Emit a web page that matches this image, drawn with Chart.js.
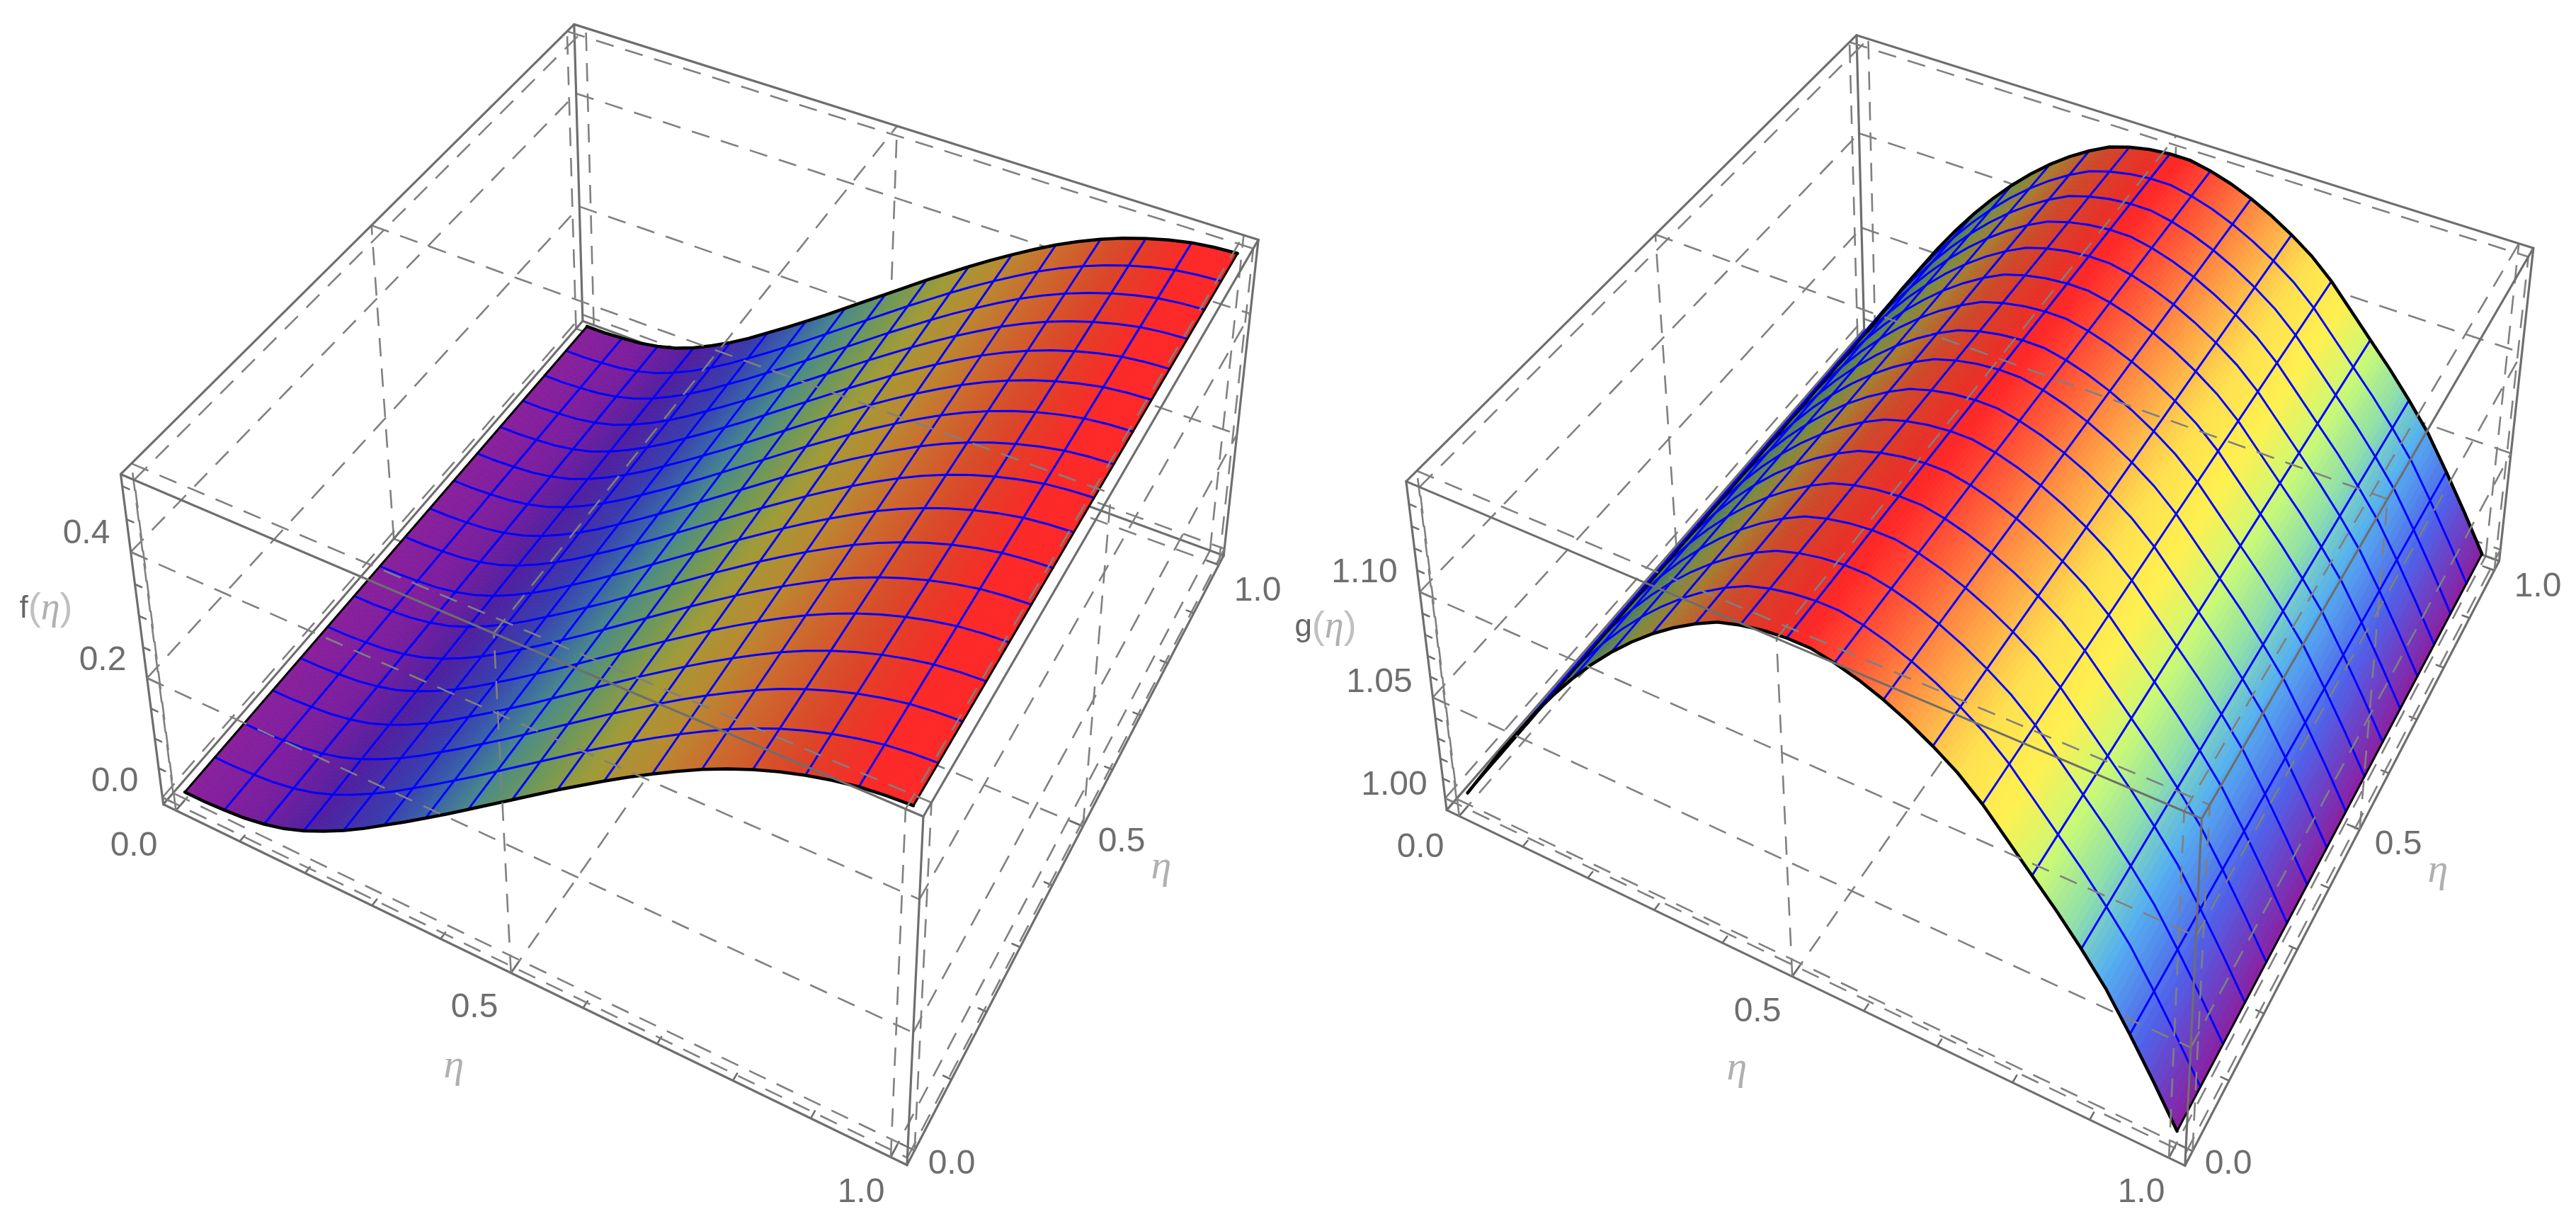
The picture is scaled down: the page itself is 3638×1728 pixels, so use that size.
<!DOCTYPE html>
<html><head><meta charset="utf-8">
<style>html,body{margin:0;padding:0;background:#fff}canvas{position:absolute;top:0}</style>
<script src="https://cdn.jsdelivr.net/npm/chart.js@4"></script>
</head><body>
<canvas id="left" width="1819" height="1728" style="left:0"></canvas>
<canvas id="right" width="1819" height="1728" style="left:1819px"></canvas>
<script>
// ---- data ----
const etaSamples = Array.from({length:33},(_,k)=>k/32);
const fValues = [0,0,.002,.005,.011,.02,.033,.049,.067,.087,.109,.131,.154,.177,.201,.225,.249,.273,.297,.32,.343,.365,.386,.406,.425,.442,.457,.47,.481,.49,.497,.501,.503];
const gValues = [1,1.015,1.03,1.044,1.058,1.071,1.083,1.094,1.104,1.113,1.121,1.128,1.134,1.139,1.142,1.144,1.145,1.145,1.143,1.14,1.136,1.131,1.125,1.118,1.109,1.098,1.087,1.076,1.064,1.051,1.035,1.018,1];
const etaTicks = [0,.5,1];
const etaMinorTicks = [.1,.2,.3,.4,.6,.7,.8,.9];
const fTicks = [0,.2,.4];
const fMinorTicks = [.05,.1,.15,.25,.3,.35,.45,.5];
const gTicks = [1,1.05,1.1];
const gMinorTicks = [1.01,1.02,1.03,1.04,1.06,1.07,1.08,1.09,1.11,1.12,1.13,1.14];
const etaRange = [-.02,1.02];
const fRange = [-.012,.518];
const gRange = [.994,1.15];
const meshCells = 16;
const fColorStops = [[0,'#8a209c'],[.1,'#7a1f9e'],[.2,'#4f20a0'],[.3,'#3a3cae'],[.37,'#3a62a8'],[.44,'#4a8a88'],[.52,'#6f9858'],[.6,'#a09a38'],[.68,'#b88a30'],[.76,'#cc6a2e'],[.86,'#dc4428'],[.94,'#fa2a28'],[1,'#ff2828']];
const gColorStops = [[0,'#2828c8'],[.1,'#3a5aa0'],[.2,'#4a7a60'],[.27,'#7a8a40'],[.33,'#aa7a30'],[.4,'#cc4a2a'],[.48,'#e83028'],[.52,'#ff2828'],[.58,'#ff5538'],[.65,'#ff9a45'],[.72,'#ffe050'],[.77,'#fff050'],[.82,'#c8f878'],[.86,'#90e0a8'],[.9,'#55b0f0'],[.95,'#5060e8'],[1,'#8a20a0']];
// ---- camera: where the eight corners of each box land on the page ----
const leftCorners = {x0y0z0:[229,1134],x1y0z0:[1283,1644],x1y1z0:[1729,782],x0y1z0:[822,457],x0y0z1:[172,669],x1y0z1:[1302,1156],x1y1z1:[1776,339],x0y1z1:[812,32]};
const rightCorners = {x0y0z0:[2043,1145],x1y0z0:[3085,1646],x1y1z0:[3531,785],x0y1z0:[2632,470],x0y0z1:[1988,675],x1y0z1:[3108,1159],x1y1z1:[3578,355],x0y1z1:[2621,47]};

function solve(A,b){const n=b.length;const M=A.map((r,i)=>[...r,b[i]]);
 for(let i=0;i<n;i++){let p=i;for(let r=i+1;r<n;r++)if(Math.abs(M[r][i])>Math.abs(M[p][i]))p=r;[M[i],M[p]]=[M[p],M[i]];
  for(let r=0;r<n;r++){if(r===i)continue;const f=M[r][i]/M[i][i];for(let c=i;c<=n;c++)M[r][c]-=f*M[i][c];}}
 return M.map((r,i)=>r[n]/r[i]);}
function fitCamera(c){const rows=[],rhs=[];
 for(const [k,[u0,v0]] of Object.entries(c)){const X=+k[1],Y=+k[3],Z=+k[5];const u=u0/1000,v=v0/1000;
  rows.push([X,Y,Z,1,0,0,0,0,-u*X,-u*Y,-u*Z]);rhs.push(u);
  rows.push([0,0,0,0,X,Y,Z,1,-v*X,-v*Y,-v*Z]);rhs.push(v);}
 const n=11,A=Array.from({length:n},()=>Array(n).fill(0)),b=Array(n).fill(0);
 rows.forEach((r,i)=>{for(let a=0;a<n;a++){b[a]+=r[a]*rhs[i];for(let d=0;d<n;d++)A[a][d]+=r[a]*r[d];}});
 const p=solve(A,b);
 return (X,Y,Z)=>{const w=p[8]*X+p[9]*Y+p[10]*Z+1;return {x:1000*(p[0]*X+p[1]*Y+p[2]*Z+p[3])/w,y:1000*(p[4]*X+p[5]*Y+p[6]*Z+p[7])/w};};}
function hex(c){return [1,3,5].map(i=>parseInt(c.slice(i,i+2),16));}
function colorAt(stops,t){for(let i=1;i<stops.length;i++){if(t<=stops[i][0]){const a=stops[i-1],b=stops[i],f=(t-a[0])/(b[0]-a[0]),A=hex(a[1]),B=hex(b[1]);return `rgb(${A.map((v,j)=>Math.round(v+(B[j]-v)*f)).join(',')})`;}}return stops[stops.length-1][1];}

const GREY='#6e6e6e',DASH='#808080';
function panel(id,corners,values,zTicks,zMinor,zRange,stops,labels,left){
 const cam=fitCamera(corners);
 const ex=v=>(v-etaRange[0])/(etaRange[1]-etaRange[0]);
 const ez=v=>(v-zRange[0])/(zRange[1]-zRange[0]);
 const P=(x,y,z)=>cam(ex(x),ex(y),ez(z));
 const Pb=(a,b,c)=>cam(a,b,c); // in box fractions
 const ds=[];
 const line=(pts,color,width,dash)=>ds.push({data:pts,showLine:true,borderColor:color,borderWidth:width,borderDash:dash||[],pointRadius:0,fill:false,tension:0,clip:false,borderCapStyle:dash?'butt':'round'});
 const gridOnFace=(axis,val)=>{ // axis: 0=x,1=y,2=z fixed at box fraction val
  const mk=(u,v)=>{const a=[0,0,0];a[axis]=val;const o=[0,1,2].filter(i=>i!==axis);a[o[0]]=u;a[o[1]]=v;return Pb(a[0],a[1],a[2]);};
  const o=[0,1,2].filter(i=>i!==axis);
  const frac=i=>i===2?zTicks.map(ez):etaTicks.map(ex);
  frac(o[0]).forEach(u=>line([mk(u,0),mk(u,1)],DASH,2.6,[26,17]));
  frac(o[1]).forEach(v=>line([mk(0,v),mk(1,v)],DASH,2.6,[26,17]));
 };
 const edge=(a,b)=>line([Pb(...a),Pb(...b)],GREY,3.2);
 const tick=(a,b)=>line([Pb(...a),Pb(...b)],GREY,2.6);
 // behind the surface: floor and the two rear walls
 gridOnFace(2,0);gridOnFace(0,0);gridOnFace(1,1);
 edge([0,0,0],[1,0,0]);edge([1,0,0],[1,1,0]);edge([1,1,0],[0,1,0]);edge([0,1,0],[0,0,0]);
 edge([0,1,0],[0,1,1]);edge([0,0,0],[0,0,1]);edge([1,1,0],[1,1,1]);
 // axis ticks
 const L=.016,l=.01;
 etaTicks.forEach(v=>{tick([ex(v),0,0],[ex(v),L,0]);tick([1,ex(v),0],[1-L,ex(v),0]);});
 etaMinorTicks.forEach(v=>{tick([ex(v),0,0],[ex(v),l,0]);tick([1,ex(v),0],[1-l,ex(v),0]);});
 zTicks.forEach(v=>tick([0,0,ez(v)],[L,0,ez(v)]));
 zMinor.forEach(v=>tick([0,0,ez(v)],[l,0,ez(v)]));
 // surface strips
 const sub=6;
 for(let i=0;i<etaSamples.length-1;i++){for(let s=0;s<sub;s++){
   const x0=etaSamples[i]+(etaSamples[i+1]-etaSamples[i])*s/sub,x1=etaSamples[i]+(etaSamples[i+1]-etaSamples[i])*(s+1)/sub;
   const z0=values[i]+(values[i+1]-values[i])*s/sub,z1=values[i]+(values[i+1]-values[i])*(s+1)/sub;
   const col=colorAt(stops,(x0+x1)/2);
   ds.push({data:[P(x0,0,z0),P(x1,0,z1),P(x1,1,z1),P(x0,1,z0),P(x0,0,z0)],showLine:true,fill:'shape',backgroundColor:col,borderColor:col,borderWidth:1,pointRadius:0,tension:0,clip:false});
 }}
 // mesh
 const BLUE='#0000ff';
 for(let k=1;k<meshCells;k++){
  const y=k/meshCells;line(etaSamples.map((x,i)=>P(x,y,values[i])),BLUE,3);
  const idx=k*(etaSamples.length-1)/meshCells;line([P(etaSamples[idx],0,values[idx]),P(etaSamples[idx],1,values[idx])],BLUE,3);
 }
 // boundary
 line(etaSamples.map((x,i)=>P(x,0,values[i])),'#000',4.5);
 line(etaSamples.map((x,i)=>P(x,1,values[i])),'#000',4.5);
 line([P(0,0,values[0]),P(0,1,values[0])],'#000',3);
 const last=values.length-1;line([P(1,0,values[last]),P(1,1,values[last])],'#000',3);
 // in front of the surface: ceiling and the two front walls
 gridOnFace(2,1);gridOnFace(0,1);gridOnFace(1,0);
 edge([0,0,1],[1,0,1]);edge([1,0,1],[1,1,1]);edge([1,1,1],[0,1,1]);edge([0,1,1],[0,0,1]);
 edge([1,0,0],[1,0,1]);
 const labelPlugin={id:'labels',afterDraw(c){const g=c.ctx,sx=c.scales.x,sy=c.scales.y;g.save();g.textAlign='center';g.textBaseline='middle';
   labels.forEach(l=>{g.font=l.font||"48px 'Liberation Sans'";g.fillStyle=l.color||GREY;
    if(l.parts){let w=0;l.parts.forEach(p=>{g.font=p.font;w+=g.measureText(p.t).width;});let x=sx.getPixelForValue(l.x)-w/2;g.textAlign='left';
      l.parts.forEach(p=>{g.font=p.font;g.fillStyle=p.color;g.fillText(p.t,x,sy.getPixelForValue(l.y));x+=g.measureText(p.t).width;});g.textAlign='center';}
    else g.fillText(l.t,sx.getPixelForValue(l.x),sy.getPixelForValue(l.y));});
   g.restore();}};
 return new Chart(document.getElementById(id),{type:'scatter',data:{datasets:ds.slice().reverse()},plugins:[labelPlugin],
  options:{responsive:false,animation:false,parsing:false,normalized:true,layout:{padding:0},
   plugins:{legend:{display:false},tooltip:{enabled:false},title:{display:false}},
   scales:{x:{type:'linear',display:false,min:left,max:left+1819},y:{type:'linear',display:false,min:0,max:1728,reverse:true}}}});
}
const ETA={font:"italic 58px 'Liberation Serif'",color:'#b0b0b0'};
const tk=(t,x,y)=>({t,x,y});
const axisName=(name,x,y)=>({x,y,parts:[{t:name,font:"44px 'Liberation Sans'",color:'#666666'},{t:'(',font:"54px 'Liberation Sans'",color:'#c0c0c0'},{t:'η',font:"italic 54px 'Liberation Serif'",color:'#b0b0b0'},{t:')',font:"54px 'Liberation Sans'",color:'#c0c0c0'}]});
panel('left',leftCorners,fValues,fTicks,fMinorTicks,fRange,fColorStops,[
 tk('0.4',122,754),tk('0.2',145,933),tk('0.0',162,1104),tk('0.0',189,1195),tk('0.5',670,1423),tk('1.0',1216,1684),tk('0.0',1344,1644),tk('0.5',1584,1189),tk('1.0',1776,835),
 {t:'η',x:641,y:1506,...ETA},{t:'η',x:1640,y:1225,...ETA},axisName('f',65,860)],0);
panel('right',rightCorners,gValues,gTicks,gMinorTicks,gRange,gColorStops,[
 tk('1.10',1927,809),tk('1.05',1948,964),tk('1.00',1969,1109),tk('0.0',2006,1197),tk('0.5',2482,1429),tk('1.0',3024,1684),tk('0.0',3147,1644),tk('0.5',3387,1193),tk('1.0',3584,829),
 {t:'η',x:2453,y:1509,...ETA},{t:'η',x:3443,y:1230,...ETA},axisName('g',1872,886)],1819);
</script></body></html>
